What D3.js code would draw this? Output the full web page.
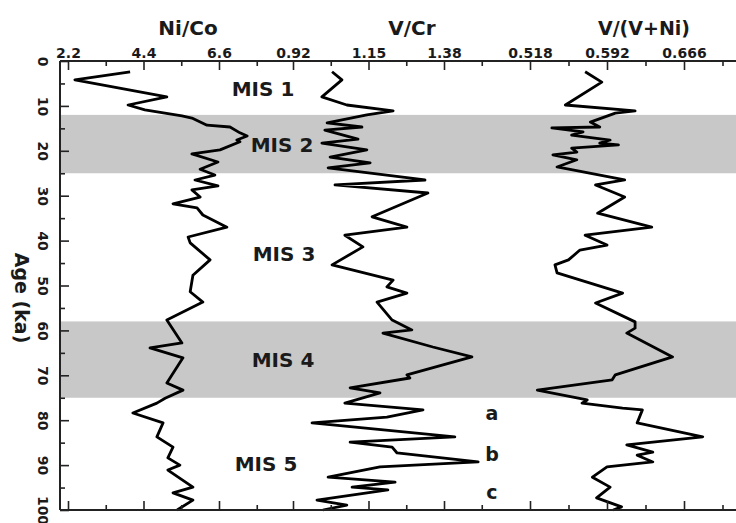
<!DOCTYPE html>
<html>
<head>
<meta charset="utf-8">
<script src="https://cdn.jsdelivr.net/npm/d3@7"></script>
<style>
  body { margin: 0; background: #fff; }
  text { font-family: "DejaVu Sans", sans-serif; font-weight: bold; fill: #1a1a1a; }
</style>
</head>
<body>
<div class="chart"></div>
<script>
// data
var nicoAge = [2.4, 4.2, 8.0, 9.8, 10.9, 12.2, 12.7, 14.3, 14.7, 16.0, 16.7, 17.6, 18.0, 19.8, 20.7, 22.5, 24.1, 25.4, 26.5, 27.8, 28.7, 30.3, 31.8, 32.7, 34.3, 37.0, 39.2, 40.5, 44.3, 47.7, 51.4, 53.7, 57.7, 62.8, 63.9, 66.1, 71.7, 73.3, 75.1, 76.2, 78.4, 80.6, 83.7, 86.0, 88.4, 90.0, 91.1, 94.9, 96.2, 97.8, 100];
var nicoVal = [4.01, 2.40, 5.08, 3.95, 4.44, 5.52, 5.81, 6.25, 6.92, 7.21, 7.42, 7.12, 7.21, 6.63, 5.81, 6.57, 6.05, 6.48, 5.90, 6.57, 5.81, 6.05, 5.26, 5.96, 6.13, 6.83, 5.70, 5.76, 6.34, 5.84, 5.76, 6.13, 5.08, 5.52, 4.59, 5.55, 5.08, 5.55, 5.03, 4.79, 4.09, 4.97, 4.79, 5.26, 5.11, 5.46, 5.11, 5.84, 5.26, 5.84, 5.38];

var vcrAge = [2.4, 4.2, 8.0, 9.8, 11.1, 12.0, 13.8, 14.7, 15.4, 17.4, 18.3, 19.8, 21.4, 22.7, 23.8, 26.5, 27.6, 29.4, 34.7, 37.0, 38.8, 41.4, 45.4, 48.8, 50.3, 51.7, 53.7, 57.7, 59.9, 60.6, 63.7, 65.9, 69.9, 70.6, 72.8, 73.9, 76.2, 77.7, 79.3, 80.6, 83.7, 84.9, 86.0, 87.3, 89.3, 90.4, 92.7, 93.8, 94.9, 95.5, 97.8, 98.9, 100];
var vcrVal = [1.039, 1.069, 1.008, 1.084, 1.225, 1.145, 1.024, 1.130, 1.017, 1.118, 1.008, 1.145, 1.033, 1.155, 1.027, 1.322, 1.048, 1.331, 1.161, 1.267, 1.078, 1.133, 1.039, 1.225, 1.206, 1.267, 1.176, 1.222, 1.282, 1.194, 1.346, 1.465, 1.267, 1.276, 1.094, 1.185, 1.078, 1.316, 1.206, 0.978, 1.413, 1.094, 1.222, 1.237, 1.484, 1.185, 1.027, 1.231, 1.100, 1.209, 0.993, 1.084, 1.011];

var vvniAge = [2.4, 4.7, 9.8, 11.1, 11.6, 13.6, 14.7, 14.9, 15.8, 16.5, 17.6, 18.3, 18.7, 19.4, 20.3, 20.9, 22.0, 23.6, 26.5, 27.6, 30.3, 33.9, 37.0, 38.8, 41.0, 42.1, 44.3, 45.4, 47.2, 51.7, 53.9, 58.1, 59.5, 60.6, 65.9, 69.9, 71.0, 73.3, 75.5, 76.2, 77.3, 77.7, 80.6, 83.7, 85.5, 87.1, 87.8, 89.3, 90.4, 92.7, 94.9, 97.3, 99.3, 100];
var vvniVal = [0.571, 0.587, 0.552, 0.619, 0.600, 0.576, 0.585, 0.539, 0.569, 0.558, 0.595, 0.585, 0.603, 0.558, 0.563, 0.540, 0.563, 0.544, 0.609, 0.581, 0.609, 0.583, 0.635, 0.571, 0.592, 0.566, 0.555, 0.542, 0.544, 0.607, 0.581, 0.619, 0.619, 0.611, 0.655, 0.600, 0.597, 0.525, 0.573, 0.568, 0.607, 0.626, 0.621, 0.684, 0.611, 0.636, 0.621, 0.636, 0.592, 0.578, 0.595, 0.582, 0.606, 0.598];

var nicoTicks = [2.2, 4.4, 6.6];
var nicoMinor = [3.3, 5.5, 7.7];
var vcrTicks = [0.92, 1.15, 1.38];
var vcrMinor = [1.035, 1.265, 1.495];
var vvniTicks = [0.518, 0.592, 0.666];
var vvniMinor = [0.555, 0.629, 0.703];
var ageTicks = [0, 10, 20, 30, 40, 50, 60, 70, 80, 90, 100];
var ageMinor = [5, 15, 25, 35, 45, 55, 65, 75, 85, 95];

var misNames = ["MIS 1", "MIS 2", "MIS 3", "MIS 4", "MIS 5"];
var misAge = [6.2, 18.7, 43, 66.6, 89.8];
var bandStart = [12, 58];
var bandEnd = [25, 75];
var subNames = ["a", "b", "c"];
var subAge = [78.3, 87.6, 96];

var svgWidth = 736;
var svgHeight = 523;
var plotLeft = 60, plotTop = 61, plotBottom = 510, plotRight = 760;

var svg = d3.select(".chart")
  .append("svg")
  .attr("width", svgWidth)
  .attr("height", svgHeight);

var y = d3.scaleLinear().domain([0, 100]).range([plotTop, plotBottom]);

// three panels share one frame, each has its own x scale
var xNico = d3.scaleLinear().domain([2.2, 6.6]).range([68, 219]);
var xVcr = d3.scaleLinear().domain([0.92, 1.38]).range([293, 444]);
var xVvni = d3.scaleLinear().domain([0.518, 0.666]).range([530, 684]);

// grey bands for glacial stages
svg.selectAll("rect.band")
  .data(bandStart)
  .enter()
  .append("rect")
  .attr("class", "band")
  .attr("x", plotLeft)
  .attr("y", function(d) { return y(d); })
  .attr("width", plotRight - plotLeft)
  .attr("height", function(d, i) { return y(bandEnd[i]) - y(d); })
  .attr("fill", "#c8c8c8");

function drawCurve(ages, vals, x) {
  var line = d3.line()
    .x(function(d) { return x(d); })
    .y(function(d, i) { return y(ages[i]); });
  svg.append("path")
    .datum(vals)
    .attr("d", line)
    .attr("fill", "none")
    .attr("stroke", "#000")
    .attr("stroke-width", 2.8)
    .attr("stroke-linejoin", "round");
}
drawCurve(nicoAge, nicoVal, xNico);
drawCurve(vcrAge, vcrVal, xVcr);
drawCurve(vvniAge, vvniVal, xVvni);

// x axes, top with labels, bottom ticks only
function xAxes(x, major, minor, fmt) {
  var t = svg.append("g")
    .attr("transform", "translate(0," + plotTop + ")")
    .call(d3.axisTop(x).tickValues(major).tickSize(-9).tickPadding(3).tickFormat(d3.format(fmt)));
  t.selectAll("text").attr("font-size", "14px").attr("font-family", null);
  svg.append("g")
    .attr("transform", "translate(0," + plotTop + ")")
    .call(d3.axisTop(x).tickValues(minor).tickSize(-5).tickFormat(""));
  svg.append("g")
    .attr("transform", "translate(0," + plotBottom + ")")
    .call(d3.axisBottom(x).tickValues(major).tickSize(-9).tickFormat(""));
  svg.append("g")
    .attr("transform", "translate(0," + plotBottom + ")")
    .call(d3.axisBottom(x).tickValues(minor).tickSize(-5).tickFormat(""));
}
xAxes(xNico, nicoTicks, nicoMinor, ".1f");
xAxes(xVcr, vcrTicks, vcrMinor, ".2f");
xAxes(xVvni, vvniTicks, vvniMinor, ".3f");

var yAx = svg.append("g")
  .attr("transform", "translate(" + plotLeft + ",0)")
  .call(d3.axisLeft(y).tickValues(ageTicks).tickSize(-9));
yAx.selectAll("text")
  .attr("font-size", "14px")
  .attr("font-family", null)
  .attr("x", null).attr("dy", null)
  .attr("text-anchor", "middle")
  .attr("dominant-baseline", "central")
  .attr("transform", "translate(-17,0) rotate(90)");
svg.append("g")
  .attr("transform", "translate(" + plotLeft + ",0)")
  .call(d3.axisLeft(y).tickValues(ageMinor).tickSize(-5).tickFormat(""));

svg.selectAll(".domain").remove();
svg.selectAll(".tick line").attr("stroke", "#222").attr("stroke-width", 1.6);

// frame lines
svg.append("line").attr("x1", plotLeft).attr("x2", plotRight).attr("y1", plotTop).attr("y2", plotTop)
  .attr("stroke", "#222").attr("stroke-width", 2);
svg.append("line").attr("x1", plotLeft).attr("x2", plotRight).attr("y1", plotBottom).attr("y2", plotBottom)
  .attr("stroke", "#222").attr("stroke-width", 2);
svg.append("line").attr("x1", plotLeft).attr("x2", plotLeft).attr("y1", plotTop).attr("y2", plotBottom)
  .attr("stroke", "#222").attr("stroke-width", 2);

// titles
svg.append("text").attr("x", 188).attr("y", 35).attr("text-anchor", "middle")
  .attr("font-size", "20px").text("Ni/Co");
svg.append("text").attr("x", 412).attr("y", 35).attr("text-anchor", "middle")
  .attr("font-size", "20px").text("V/Cr");
svg.append("text").attr("x", 644).attr("y", 35).attr("text-anchor", "middle")
  .attr("font-size", "19px").text("V/(V+Ni)");

svg.append("text")
  .attr("transform", "translate(22,298) rotate(90)")
  .attr("text-anchor", "middle")
  .attr("dominant-baseline", "central")
  .attr("font-size", "19px")
  .text("Age (ka)");

// stage labels
var misX = [263, 282, 284, 283, 266];
svg.selectAll("text.mis")
  .data(misNames)
  .enter()
  .append("text")
  .attr("class", "mis")
  .attr("x", function(d, i) { return misX[i]; })
  .attr("y", function(d, i) { return y(misAge[i]); })
  .attr("text-anchor", "middle")
  .attr("dominant-baseline", "central")
  .attr("font-size", "20px")
  .text(function(d) { return d; });

svg.selectAll("text.sub")
  .data(subNames)
  .enter()
  .append("text")
  .attr("class", "sub")
  .attr("x", 492)
  .attr("y", function(d, i) { return y(subAge[i]); })
  .attr("text-anchor", "middle")
  .attr("dominant-baseline", "central")
  .attr("font-size", "19px")
  .text(function(d) { return d; });
</script>
</body>
</html>
